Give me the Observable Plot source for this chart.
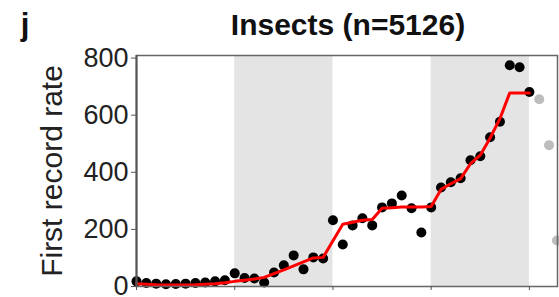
<!DOCTYPE html>
<html>
<head>
<meta charset="utf-8">
<script src="https://cdn.jsdelivr.net/npm/d3@7"></script>
<script src="https://cdn.jsdelivr.net/npm/@observablehq/plot@0.6"></script>
<style>
  html, body { margin: 0; padding: 0; background: white; }
  #chart { width: 559px; height: 297px; overflow: hidden; }
</style>
</head>
<body>
<div id="chart"></div>
<script>
// Black points: first record rates (5-year steps)
const years = [1800,1805,1810,1815,1820,1825,1830,1835,1840,1845,
  1850,1855,1860,1865,1870,1875,1880,1885,1890,1895,
  1900,1905,1910,1915,1920,1925,1930,1935,1940,1945,
  1950,1955,1960,1965,1970,1975,1980,1985,1990,1995,2000];
const rates = [18,12,10,8,9,10,12,14,18,22,
  46,30,28,14,49,74,109,60,102,98,
  232,147,214,239,214,277,291,319,274,189,
  277,347,365,379,442,456,523,577,775,768,681];
// Grey points: recent, incomplete years
const greyYears = [2005, 2010, 2014];
const greyRates = [656, 495, 161];
// Red fitted line
const fitYears = years;
const fitRates = [10,8,6,5,5,5,6,8,10,13,
  18,22,26,32,45,58,72,86,100,102,
  160,218,225,232,235,274,276,278,278,278,
  280,340,360,378,430,460,520,588,678,678,678];
// Shaded bands
const bandStart = [1850, 1950];
const bandEnd = [1900, 2000];
const xTicks = [1800, 1850, 1900, 1950, 2000];
const yTicks = [0, 200, 400, 600, 800];

const pts = years.map((y, i) => ({year: y, rate: rates[i]}));
const grey = greyYears.map((y, i) => ({year: y, rate: greyRates[i]}));
const fit = fitYears.map((y, i) => ({year: y, rate: fitRates[i]}));
const bands = bandStart.map((s, i) => ({x1: s, x2: bandEnd[i]}));

const plot = Plot.plot({
  width: 559,
  height: 297,
  marginLeft: 136,
  marginRight: 2,
  marginTop: 55,
  marginBottom: 11,
  style: {fontFamily: "'Liberation Sans', Arial, Helvetica, sans-serif", background: "white"},
  x: {domain: [1800, 2014.3]},
  y: {domain: [0, 809]},
  marks: [
    Plot.rect(bands, {x1: "x1", x2: "x2", fill: "#e4e4e4"}),
    Plot.dot(grey, {x: "year", y: "rate", r: 5, fill: "#bdbdbd", stroke: "none"}),
    Plot.dot(pts, {x: "year", y: "rate", r: 5, fill: "black", stroke: "none"}),
    Plot.line(fit, {x: "year", y: "rate", stroke: "#ff0000", strokeWidth: 3}),
    Plot.frame({stroke: "#666", strokeWidth: 1.5}),
    Plot.axisY({ticks: yTicks, tickSize: 5, tickPadding: 3, fontSize: 27, label: null, stroke: "#555", color: "#222"}),
    Plot.axisX({ticks: xTicks, tickSize: 4, tickFormat: () => "", label: null, stroke: "#555"}),
    Plot.ruleX([1800], {stroke: "#555", strokeWidth: 2})
  ]
});

const svg = d3.select(plot);
svg.append("text")
  .attr("x", 25).attr("y", 35)
  .attr("font-size", 31).attr("font-weight", "bold").attr("fill", "#111")
  .text("j");
svg.append("text")
  .attr("x", 348).attr("y", 35)
  .attr("text-anchor", "middle")
  .attr("font-size", 30).attr("font-weight", "bold").attr("fill", "#111")
  .text("Insects (n=5126)");
svg.append("text")
  .attr("transform", "translate(62,171) rotate(-90)")
  .attr("text-anchor", "middle")
  .attr("font-size", 30).attr("fill", "#222")
  .text("First record rate");

document.getElementById("chart").appendChild(plot);
</script>
</body>
</html>
